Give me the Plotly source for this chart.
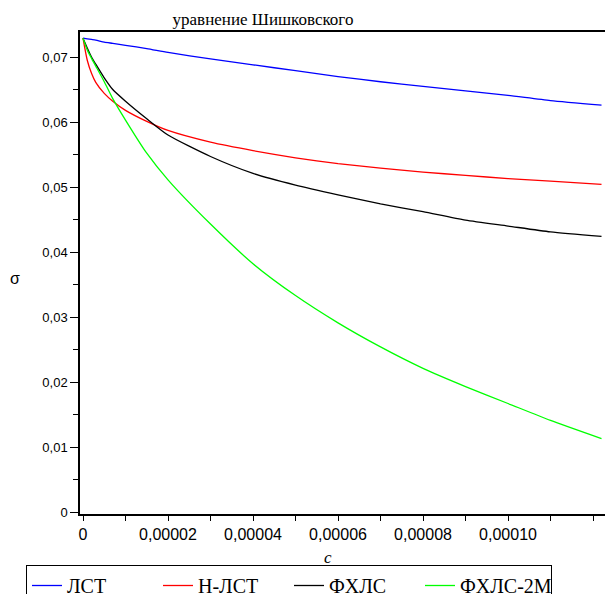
import plotly.graph_objects as go

# concentration c
c = [0, 1e-6, 2e-6, 3e-6, 5e-6, 7e-6, 1e-5, 1.5e-5, 2e-5, 3e-5, 4e-5, 5e-5,
     6e-5, 7e-5, 8e-5, 9e-5, 1e-4, 1.1e-4, 1.22e-4]

# surface tension sigma per series
lst = [0.0729, 0.0728, 0.0727, 0.0726, 0.0723, 0.0721, 0.0718, 0.0713, 0.0707,
       0.0697, 0.0688, 0.0679, 0.0670, 0.0662, 0.0655, 0.0648, 0.0641, 0.0633, 0.0626]
n_lst = [0.0729, 0.0695, 0.0675, 0.0661, 0.0644, 0.0632, 0.0618, 0.0601, 0.0587,
         0.0569, 0.0556, 0.0545, 0.0536, 0.0529, 0.0523, 0.0518, 0.0513, 0.0509, 0.0504]
fhls = [0.0729, 0.0714, 0.0700, 0.0689, 0.0668, 0.0650, 0.0632, 0.0605, 0.0580,
        0.0547, 0.0521, 0.0503, 0.0488, 0.0474, 0.0462, 0.0449, 0.0440, 0.0431, 0.0424]
fhls2m = [0.0729, 0.0711, 0.0698, 0.0686, 0.0662, 0.0636, 0.0603, 0.0552, 0.0511,
          0.0443, 0.0382, 0.0333, 0.0291, 0.0254, 0.0221, 0.0193, 0.0167, 0.0141, 0.0113]

series_names = ["ЛСТ", "Н-ЛСТ", "ФХЛС", "ФХЛС-2М"]
series_colors = ["#0000ff", "#ff0000", "#000000", "#00ff00"]

x_tickvals = [0, 2e-5, 4e-5, 6e-5, 8e-5, 1e-4]
x_ticktext = ["0", "0,00002", "0,00004", "0,00006", "0,00008", "0,00010"]
y_tickvals = [0, 0.01, 0.02, 0.03, 0.04, 0.05, 0.06, 0.07]
y_ticktext = ["0", "0,01", "0,02", "0,03", "0,04", "0,05", "0,06", "0,07"]

title_text = "уравнение Шишковского"
x_label = "c"
y_label = "σ"

SERIF = "Liberation Serif, Times New Roman, serif"
SANS = "Liberation Sans, Arial, sans-serif"

fig = go.Figure()
for name, ys, col in zip(series_names, [lst, n_lst, fhls, fhls2m], series_colors):
    fig.add_trace(go.Scatter(x=c, y=ys, mode="lines", name=name,
                             line=dict(color=col, width=1.3, shape="spline", smoothing=0.6)))

W, H = 606, 594
L, T, R, B = 80, 32, 1, 80
PW, PH = W - L - R, H - T - B
fig.update_layout(
    width=W, height=H,
    margin=dict(l=L, r=R, t=T, b=B, autoexpand=False),
    paper_bgcolor="white", plot_bgcolor="white",
    showlegend=True,
    legend=dict(orientation="h", x=(26 - L) / PW, y=(514 - 565) / PH,
                xanchor="left", yanchor="top",
                bordercolor="black", borderwidth=1, bgcolor="white",
                font=dict(family=SERIF, size=20, color="black"),
                entrywidth=86, entrywidthmode="pixels",
                itemwidth=30, tracegroupgap=0),
    title=dict(text=title_text, x=(263 - L) / PW, xref="paper", xanchor="center",
               y=1 - 19 / H, yref="container", yanchor="middle",
               font=dict(family=SERIF, size=17, color="black")),
    xaxis=dict(range=[-7.06e-7, 1.2282e-4], showgrid=False, zeroline=False,
               showline=True, linecolor="black", linewidth=1.5, mirror=True,
               ticks="outside", ticklen=5, tickwidth=1, tickcolor="black",
               tickmode="array", tickvals=x_tickvals, ticktext=x_ticktext,
               tickfont=dict(family=SANS, size=16, color="black"),
               minor=dict(ticks="outside", ticklen=5, tickcolor="black", tick0=0, dtick=1e-5)),
    yaxis=dict(range=[-0.0003, 0.07385], showgrid=False, zeroline=False,
               showline=True, linecolor="black", linewidth=1.5, mirror=False,
               ticks="outside", ticklen=8, tickwidth=1, tickcolor="black",
               tickmode="array", tickvals=y_tickvals, ticktext=y_ticktext,
               tickfont=dict(family=SANS, size=13, color="black"),
               minor=dict(ticks="outside", ticklen=5, tickcolor="black", tick0=0, dtick=0.005)),
    annotations=[
        dict(text=x_label, xref="paper", yref="paper",
             x=(328 - L) / PW, y=(514 - 557) / PH,
             showarrow=False, xanchor="center", yanchor="middle",
             font=dict(family=SERIF, size=17, color="black", style="italic")),
        dict(text=y_label, xref="paper", yref="paper",
             x=(15 - L) / PW, y=(514 - 278) / PH,
             showarrow=False, xanchor="center", yanchor="middle",
             font=dict(family=SANS, size=16, color="black")),
    ],
)

fig.write_html("out.html", config={"displayModeBar": False},
               post_script="document.body.style.margin='0';document.body.style.overflow='hidden';")
